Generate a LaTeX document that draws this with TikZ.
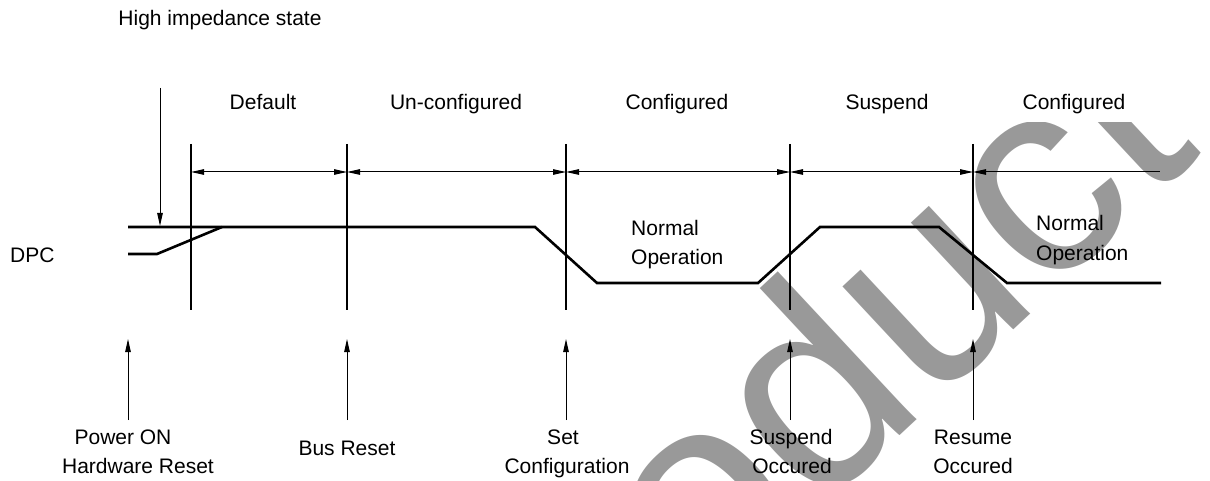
\documentclass[tikz,border=0pt]{standalone}
\usepackage{fontspec}
\setmainfont{Liberation Sans}
\usetikzlibrary{arrows.meta}
\begin{document}
\begin{tikzpicture}[x=1pt,y=-1pt,
  lbl/.style={font=\fontsize{21}{25}\selectfont, inner sep=0pt, anchor=base},
  lbll/.style={lbl, anchor=base west},
  guide/.style={line width=1.1pt},
  sig/.style={line width=2.6pt, line join=miter},
  tipa/.tip={Triangle[length=13pt,width=5.5pt]},
  dimline/.style={line width=1pt, tipa-tipa},
  dimhalf/.style={line width=1pt, tipa-},
  ev/.style={line width=1pt, -tipa},
  wmark/.style={font=\fontsize{280}{280}\selectfont, text=black!40, inner sep=0pt, anchor=base west, rotate=43}]
\useasboundingbox (0,0) rectangle (1210,481);
% watermark
\begin{scope}
  \clip (0,123) rectangle (1210,481);
  \node[wmark] (wm) at (497.7,810.6) {Product};
\end{scope}
% labels
\node[lbl] (hz) at (220,25.3) {High impedance state};
\node[lbl] (l1) at (263,110) {Default};
\node[lbl] (l2) at (456,110) {Un-configured};
\node[lbl] (l3) at (677,110) {Configured};
\node[lbl] (l4) at (887,110) {Suspend};
\node[lbl] (l5) at (1074,110) {Configured};
\node[lbll] (dpc) at (10,262) {DPC};
\node[lbll] (n1a) at (631,236) {Normal};
\node[lbll] (n1b) at (631,264) {Operation};
\node[lbll] (n2a) at (1036,231) {Normal};
\node[lbll] (n2b) at (1036,260) {Operation};
\node[lbl] (b1a) at (123,444) {Power ON};
\node[lbl] (b1b) at (138,473) {Hardware Reset};
\node[lbl] (b2) at (347,455) {Bus Reset};
\node[lbl] (b3a) at (563,444) {Set};
\node[lbl] (b3b) at (567,473) {Configuration};
\node[lbl] (b4a) at (791,444) {Suspend};
\node[lbl] (b4b) at (792,473) {Occured};
\node[lbl] (b5a) at (973,444) {Resume};
\node[lbl] (b5b) at (973,473) {Occured};
% vertical guide lines
\foreach \i/\x in {1/191,2/347,3/566,4/790,5/973}{
  \coordinate (vt\i) at (\x,144);
  \coordinate (vb\i) at (\x,310);
  \coordinate (d\i) at (\x,172);
  \draw[guide] (vt\i) -- (vb\i);
}
\coordinate (d6) at (1160,172);
\draw[dimline] (d1) -- (d2);
\draw[dimline] (d2) -- (d3);
\draw[dimline] (d3) -- (d4);
\draw[dimline] (d4) -- (d5);
\draw[dimhalf] (d5) -- (d6);
% signal
\coordinate (s0) at (128,227);
\coordinate (s1) at (535,227);
\coordinate (s2) at (597,283);
\coordinate (s3) at (758,283);
\coordinate (s4) at (820,227);
\coordinate (s5) at (939,227);
\coordinate (s6) at (1007,283);
\coordinate (s7) at (1161,283);
\draw[sig] (s0) -- (s1) -- (s2) -- (s3) -- (s4) -- (s5) -- (s6) -- (s7);
\coordinate (p0) at (128,254);
\coordinate (p1) at (157,254);
\coordinate (p2) at (222,227);
\draw[sig] (p0) -- (p1) -- (p2);
% high impedance arrow
\coordinate (hzs) at (160,88);
\coordinate (hzt) at (160,226);
\draw[ev] (hzs) -- (hzt);
% event arrows
\foreach \i/\x in {1/128,2/347,3/566,4/790,5/973}{
  \coordinate (es\i) at (\x,420);
  \coordinate (et\i) at (\x,339);
  \draw[ev] (es\i) -- (et\i);
}
\end{tikzpicture}
\end{document}
